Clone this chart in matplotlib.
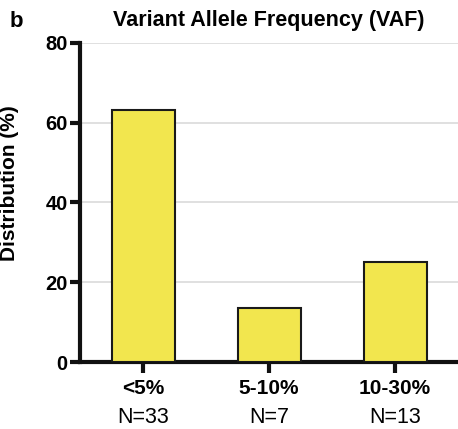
import matplotlib
matplotlib.use("Agg")
import matplotlib.pyplot as plt
from matplotlib.transforms import blended_transform_factory

categories = ["<5%", "5-10%", "10-30%"]
counts = ["N=33", "N=7", "N=13"]
values = [63.3, 13.5, 25.0]
yticks = [0, 20, 40, 60, 80]

plt.rcParams['font.family'] = ['Liberation Sans', 'DejaVu Sans']

fig = plt.figure(figsize=(4.58, 4.29), dpi=100)
ax = fig.add_axes([0.1747, 0.156, 0.8253, 0.744])

x = list(range(len(categories)))
ax.bar(x, values, width=0.5, color="#F2E64E", edgecolor="#1a1a1a", linewidth=1.5, zorder=3)

ax.set_xlim(-0.5, 2.5)
ax.set_ylim(0, 80)
ax.set_yticks(yticks)
ax.set_yticklabels([str(t) for t in yticks], fontsize=14.5, fontweight='bold')
ax.set_xticks(x)
ax.set_xticklabels(categories, fontsize=15, fontweight='bold')

ax.yaxis.grid(True, color="#e0e0e0", linewidth=1.4, zorder=0)
ax.set_axisbelow(True)

for s in ["top", "right"]:
    ax.spines[s].set_visible(False)
for s in ["left", "bottom"]:
    ax.spines[s].set_linewidth(3)
    ax.spines[s].set_color("#111111")

ax.tick_params(axis='y', length=7, width=3, pad=2, color="#111111")
ax.tick_params(axis='x', length=8, width=3, pad=4, color="#111111")

trans = blended_transform_factory(ax.transData, ax.transAxes)
for xi, c in zip(x, counts):
    ax.text(xi, -0.175, c, transform=trans, ha='center', va='center', fontsize=15.5)

ax.set_ylabel("Distribution (%)", fontsize=15, fontweight='bold')
ax.yaxis.set_label_coords(-0.162, 0.56)
ax.set_title("Variant Allele Frequency (VAF)", fontsize=15.5, fontweight='bold', pad=12)
fig.text(0.022, 0.95, "b", fontsize=16, fontweight='bold', ha='left', va='center')

fig.savefig("out.png", dpi=100)
